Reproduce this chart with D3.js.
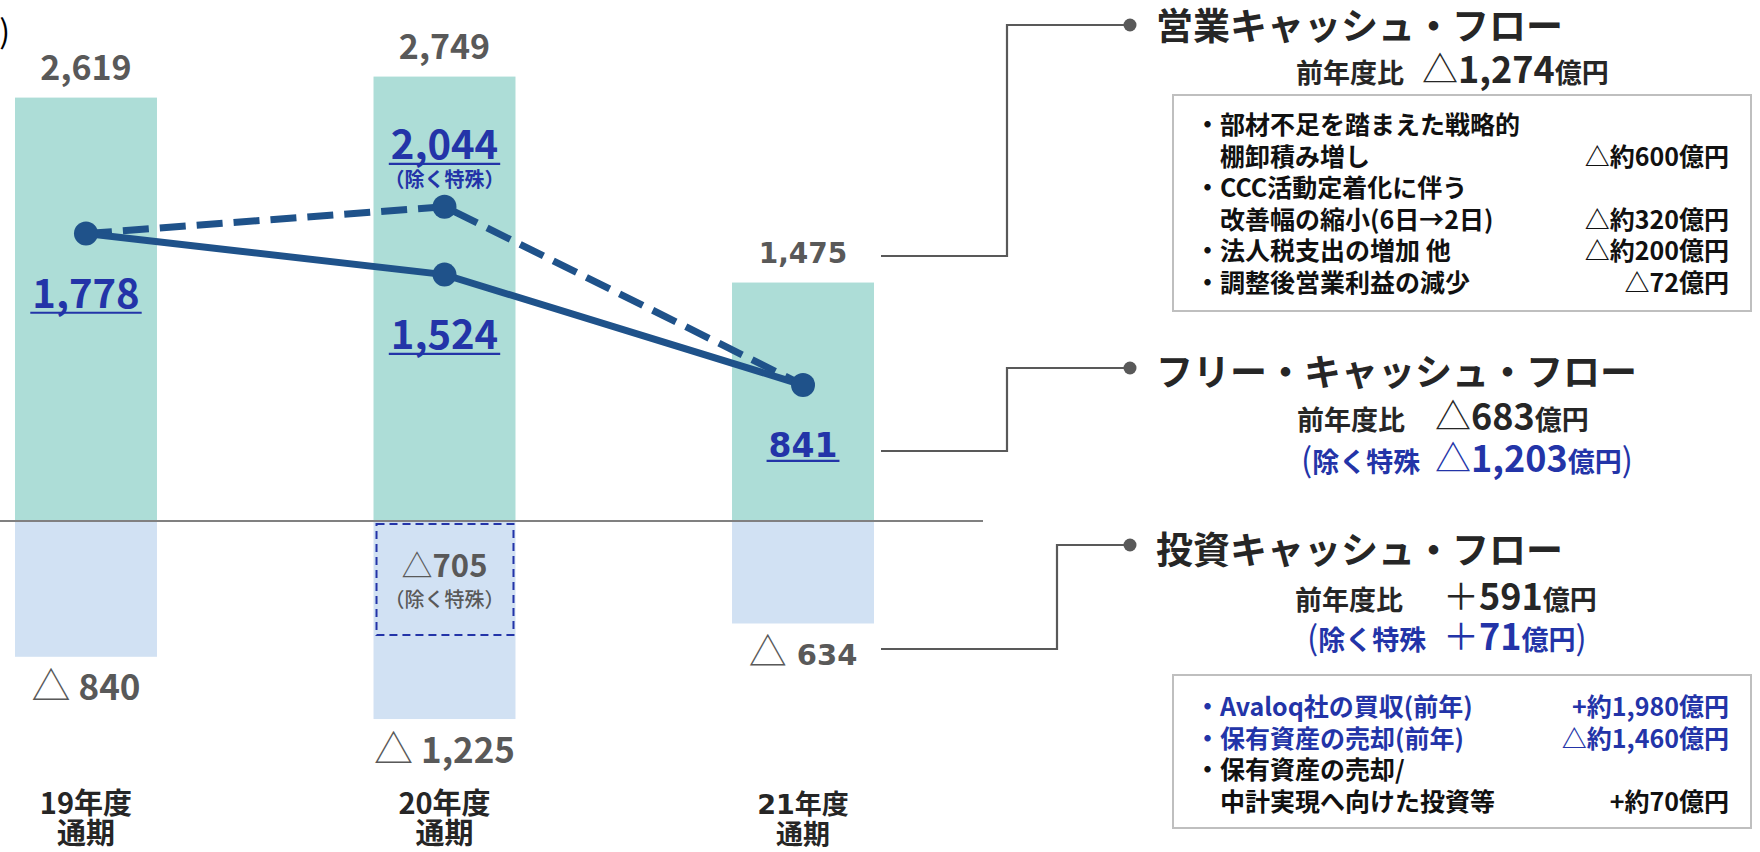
<!DOCTYPE html>
<html><head><meta charset="utf-8">
<script src="https://cdn.jsdelivr.net/npm/d3@7"></script>
<style>body{margin:0;background:#fff;} svg{display:block;}</style>
</head><body>
<svg id="chart" width="1760" height="852"></svg>
<script>
// ---------------- data ----------------
const categories = ["19年度", "20年度", "21年度"];
const categorySub = ["通期", "通期", "通期"];
const operatingCF = [2619, 2749, 1475];
const investingCF = [-840, -1225, -634];
const investingCFExSpecial = [null, -705, null];
const freeCF = [1778, 1524, 841];
// dashed line (除く特殊): plotted position, label value separately
const freeCFExSpecial = [1778, 1944, 841];
const freeCFExSpecialLabel = [null, 2044, null];
const unitLabel = "(億円)";

const panelTitles = ["営業キャッシュ・フロー", "フリー・キャッシュ・フロー", "投資キャッシュ・フロー"];
const panelChange = ["△1,274", "△683", "＋591"];
const panelChangeEx = [null, "△1,203", "＋71"];

const opItemText = ["・部材不足を踏まえた戦略的", "　棚卸積み増し", "・CCC活動定着化に伴う", "　改善幅の縮小(6日→2日)", "・法人税支出の増加 他", "・調整後営業利益の減少"];
const opItemAmount = [null, "△約600億円", null, "△約320億円", "△約200億円", "△72億円"];
const invItemText = ["・Avaloq社の買収(前年)", "・保有資産の売却(前年)", "・保有資産の売却/", "　中計実現へ向けた投資等"];
const invItemAmount = ["+約1,980億円", "△約1,460億円", null, "+約70億円"];
const invItemBlue = [true, true, false, false];

// ---------------- styles ----------------
const TEAL = "#ADDDD7", LBLUE = "#D1E1F3", NAVY = "#1F528A", BLUE = "#2334A8",
      GRAY = "#595959", DARK = "#262626", LINEGRAY = "#808080";
const FONT = "'Noto Sans CJK JP','Noto Sans',sans-serif";
const FONT3 = "'DejaVu Sans','Noto Sans CJK JP',sans-serif";
const fam = i => i === 2 ? FONT3 : FONT;

const svg = d3.select("#chart");
const fmt = d3.format(",");

const x = d3.scaleBand().domain(categories).range([15, 874]).paddingInner(0.604).paddingOuter(0);
const y = d3.scaleLinear().domain([0, 2619]).range([521, 97.6]);
const cx = i => x(categories[i]) + x.bandwidth() / 2;

function txt(g, px, cy, str, o) {
  const size = o.size || 30;
  return g.append("text")
    .attr("x", px).attr("y", cy + 0.36 * size)
    .attr("text-anchor", o.anchor || "middle")
    .attr("font-family", o.family || FONT)
    .attr("font-size", size)
    .attr("font-weight", o.weight || 700)
    .attr("fill", o.fill || DARK)
    .text(str);
}

// ---------------- bars ----------------
const gBars = svg.append("g");
gBars.selectAll("rect.pos").data(operatingCF).join("rect")
  .attr("x", (d, i) => x(categories[i])).attr("width", x.bandwidth())
  .attr("y", d => y(d)).attr("height", d => y(0) - y(d)).attr("fill", TEAL);
gBars.selectAll("rect.neg").data(investingCF).join("rect")
  .attr("x", (d, i) => x(categories[i])).attr("width", x.bandwidth())
  .attr("y", y(0)).attr("height", d => y(d) - y(0)).attr("fill", LBLUE);

// dashed box for investing ex-special
investingCFExSpecial.forEach((v, i) => {
  if (v == null) return;
  svg.append("rect")
    .attr("x", x(categories[i]) + 3).attr("width", x.bandwidth() - 5)
    .attr("y", y(0) + 3).attr("height", y(v) - y(0) - 3)
    .attr("fill", "none").attr("stroke", BLUE).attr("stroke-width", 2)
    .attr("stroke-dasharray", "8 5");
  txt(svg, cx(i), y(v) - 69, "", {size: 31, fill: GRAY})
    .call(t => { t.append("tspan").attr("font-weight", 400).text("△");
                 t.append("tspan").text(fmt(-v)); });
  txt(svg, cx(i), y(v) - 35, "（除く特殊）", {size: 20, fill: GRAY, weight: 500});
});

// zero line
svg.append("line").attr("x1", 0).attr("x2", 983).attr("y1", y(0)).attr("y2", y(0))
  .attr("stroke", LINEGRAY).attr("stroke-width", 2);

// ---------------- lines ----------------
const line = d3.line().x((d, i) => cx(i)).y(d => y(d));
svg.append("path").datum(freeCFExSpecial).attr("d", line)
  .attr("fill", "none").attr("stroke", NAVY).attr("stroke-width", 7)
  .attr("stroke-dasharray", "26 11");
svg.append("path").datum(freeCF).attr("d", line)
  .attr("fill", "none").attr("stroke", NAVY).attr("stroke-width", 7);
svg.selectAll("circle.p").data(freeCF).join("circle")
  .attr("cx", (d, i) => cx(i)).attr("cy", d => y(d)).attr("r", 12).attr("fill", NAVY);
freeCFExSpecialLabel.forEach((v, i) => {
  if (v == null) return;
  svg.append("circle").attr("cx", cx(i)).attr("cy", y(freeCFExSpecial[i])).attr("r", 12).attr("fill", NAVY);
});

// ---------------- labels ----------------
function underlined(i, cy, str, size) {
  const t = txt(svg, cx(i), cy, str, {size, fill: BLUE, family: fam(i)});
  const w = t.node().getComputedTextLength();
  svg.append("line").attr("x1", cx(i) - w / 2 - 2).attr("x2", cx(i) + w / 2 + 2)
    .attr("y1", cy + 0.48 * size).attr("y2", cy + 0.48 * size)
    .attr("stroke", BLUE).attr("stroke-width", 2.2);
}

operatingCF.forEach((v, i) => {
  txt(svg, cx(i), y(v) - 30, fmt(v), {size: i === 2 ? 28 : 34, fill: GRAY, family: fam(i)});
});
investingCF.forEach((v, i) => {
  const s = i === 2 ? 29 : 35;
  const t = txt(svg, cx(i), y(v) + 31, "", {size: s, fill: GRAY, family: fam(i)});
  t.append("tspan").attr("font-weight", 400).attr("font-family", FONT)
    .attr("font-size", i === 2 ? 38 : 39).text("△");
  t.append("tspan").text(" " + fmt(-v));
});
freeCF.forEach((v, i) => {
  underlined(i, y(v) + 60, fmt(v), i === 2 ? 33 : 40);
});
freeCFExSpecialLabel.forEach((v, i) => {
  if (v == null) return;
  const py = y(freeCFExSpecial[i]);
  underlined(i, py - 62, fmt(v), 40);
  txt(svg, cx(i), py - 27, "（除く特殊）", {size: 20, fill: BLUE});
});
categories.forEach((c, i) => {
  const s = i === 2 ? 27 : 29;
  txt(svg, cx(i), 804, c, {size: s, family: fam(i)});
  txt(svg, cx(i), 834, categorySub[i], {size: s, family: fam(i)});
});

// unit label (cropped at left edge)
svg.append("text").attr("x", 10).attr("y", 43).attr("text-anchor", "end")
  .attr("font-family", FONT).attr("font-size", 32).attr("fill", "#000").text(unitLabel);

// ---------------- right panel ----------------
const connectors = [
  [[881, 256], [1007, 256], [1007, 25], [1130, 25]],
  [[881, 451], [1007, 451], [1007, 368], [1130, 368]],
  [[881, 649], [1057, 649], [1057, 545], [1130, 545]]
];
connectors.forEach(pts => {
  svg.append("path").attr("d", d3.line()(pts)).attr("fill", "none")
    .attr("stroke", GRAY).attr("stroke-width", 2.2);
  const e = pts[pts.length - 1];
  svg.append("circle").attr("cx", e[0]).attr("cy", e[1]).attr("r", 6.5).attr("fill", GRAY);
});

const titleY = [27, 373, 551];
panelTitles.forEach((t, i) => {
  txt(svg, 1156, titleY[i], t, {size: 37, anchor: "start"});
});

function changeLine(cy, value, color, ex, x0, xNum) {
  const t = svg.append("text").attr("y", cy + 0.36 * 27).attr("font-family", FONT)
    .attr("font-weight", 700).attr("fill", color);
  if (ex) {
    t.append("tspan").attr("x", x0).attr("font-size", 33).attr("font-weight", 400).text("(");
    t.append("tspan").attr("font-size", 27).text("除く特殊");
  } else {
    t.append("tspan").attr("x", x0).attr("font-size", 27).text("前年度比");
  }
  t.append("tspan").attr("x", xNum).attr("font-size", 36).attr("font-weight", 400).text(value[0]);
  t.append("tspan").attr("font-size", 36).text(value.slice(1));
  t.append("tspan").attr("font-size", 27).text("億円");
  if (ex) t.append("tspan").attr("font-size", 33).attr("font-weight", 400).text(")");
}
changeLine(73, panelChange[0], DARK, false, 1296, 1422);
changeLine(420, panelChange[1], DARK, false, 1297, 1435);
changeLine(462, panelChangeEx[1], BLUE, true, 1301, 1435);
changeLine(600, panelChange[2], DARK, false, 1295, 1443);
changeLine(640, panelChangeEx[2], BLUE, true, 1307, 1443);

// boxes
function box(y0, y1) {
  svg.append("rect").attr("x", 1173).attr("y", y0).attr("width", 578).attr("height", y1 - y0)
    .attr("fill", "none").attr("stroke", "#BFBFBF").attr("stroke-width", 2);
}
box(95, 311);
opItemText.forEach((s, i) => {
  const cy = 125 + i * 31.6;
  txt(svg, 1195, cy, s, {size: 25, anchor: "start", fill: "#111", weight: 700});
  if (opItemAmount[i]) txt(svg, 1729, cy, opItemAmount[i], {size: 25, anchor: "end", fill: "#111"});
});
box(675, 828);
invItemText.forEach((s, i) => {
  const cy = 707 + i * 31.7;
  const c = invItemBlue[i] ? BLUE : "#111";
  txt(svg, 1195, cy, s, {size: 25, anchor: "start", fill: c});
  if (invItemAmount[i]) txt(svg, 1729, cy, invItemAmount[i], {size: 25, anchor: "end", fill: c});
});
</script>
</body></html>
